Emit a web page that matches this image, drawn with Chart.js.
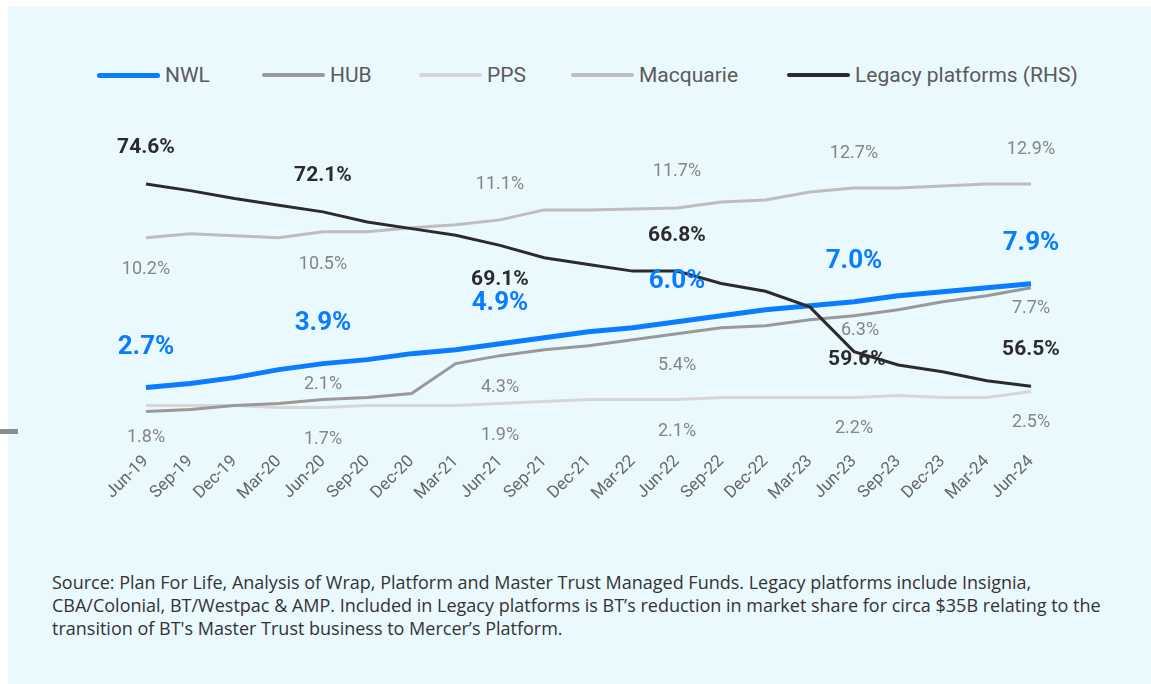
<!DOCTYPE html>
<html>
<head>
<meta charset="utf-8">
<script src="https://cdn.jsdelivr.net/npm/chart.js@4.4.1/dist/chart.umd.min.js"></script>
<style>
  html, body { margin: 0; padding: 0; background: #ffffff; }
  body { width: 1151px; height: 684px; position: relative; overflow: hidden; font-family: Roboto, "Noto Sans", sans-serif; }
  #panel { position: absolute; left: 8px; top: 6px; right: 0; bottom: 0; background: #eaf9fe; }
  #chartBox { position: absolute; left: 0; top: 0; width: 1143px; height: 550px; }
  .leg { position: absolute; top: 56px; height: 26px; display: flex; align-items: center; font-size: 21px; color: #5a5a5a; white-space: nowrap; }
  .leg span.ln { display: inline-block; width: 63px; border-radius: 3px; margin-right: 5px; }
  #source { position: absolute; left: 44px; top: 565px; margin: 0; white-space: nowrap; font-family: "Open Sans", sans-serif; font-size: 18px; line-height: 23px; color: #333; }
  #edgeBar { position: absolute; left: 0; top: 429px; width: 18px; height: 5px; background: #8c8c8c; }
</style>
</head>
<body>
<div id="panel">
  <div class="leg" style="left:89px"><span class="ln" style="height:5px;background:#0a7cff"></span>NWL</div>
  <div class="leg" style="left:254px"><span class="ln" style="height:4px;background:#999999"></span>HUB</div>
  <div class="leg" style="left:411px"><span class="ln" style="height:4px;background:#d6d6d6"></span>PPS</div>
  <div class="leg" style="left:563px"><span class="ln" style="height:4px;background:#bdbdbd"></span>Macquarie</div>
  <div class="leg" style="left:779px"><span class="ln" style="height:4px;background:#2b2b2b"></span>Legacy platforms (RHS)</div>
  <div id="chartBox"><canvas id="chart"></canvas></div>
  <p id="source">Source: Plan For Life, Analysis of Wrap, Platform and Master Trust Managed Funds. Legacy platforms include Insignia,<br>CBA/Colonial, BT/Westpac &amp; AMP. Included in Legacy platforms is BT’s reduction in market share for circa $35B relating to the<br>transition of BT's Master Trust business to Mercer’s Platform.</p>
</div>
<div id="edgeBar"></div>

<script>
  // quarters
  var quarters = ['Jun-19', 'Sep-19', 'Dec-19', 'Mar-20', 'Jun-20', 'Sep-20', 'Dec-20', 'Mar-21', 'Jun-21',
    'Sep-21', 'Dec-21', 'Mar-22', 'Jun-22', 'Sep-22', 'Dec-22', 'Mar-23', 'Jun-23', 'Sep-23', 'Dec-23', 'Mar-24', 'Jun-24'];

  // market share %, left axis
  var nwl = [2.7, 2.9, 3.2, 3.6, 3.9, 4.1, 4.4, 4.6, 4.9, 5.2, 5.5, 5.7, 6.0, 6.3, 6.6, 6.8, 7.0, 7.3, 7.5, 7.7, 7.9];
  var hub = [1.5, 1.6, 1.8, 1.9, 2.1, 2.2, 2.4, 3.9, 4.3, 4.6, 4.8, 5.1, 5.4, 5.7, 5.8, 6.1, 6.3, 6.6, 7.0, 7.3, 7.7];
  var pps = [1.8, 1.8, 1.8, 1.7, 1.7, 1.8, 1.8, 1.8, 1.9, 2.0, 2.1, 2.1, 2.1, 2.2, 2.2, 2.2, 2.2, 2.3, 2.2, 2.2, 2.5];
  var macquarie = [10.2, 10.4, 10.3, 10.2, 10.5, 10.5, 10.7, 10.85, 11.1, 11.6, 11.6, 11.65, 11.7, 12.0, 12.1, 12.5, 12.7, 12.7, 12.8, 12.9, 12.9];

  // legacy platforms %, right axis
  var legacy = [74.6, 74.0, 73.3, 72.7, 72.1, 71.2, 70.6, 70.0, 69.1, 68.0, 67.4, 66.8, 66.8, 65.7, 65.0, 63.6, 59.6, 58.4, 57.8, 57.0, 56.5];

  // points that get a value label (every June)
  var labelIdx = [0, 4, 8, 12, 16, 20];

  // label placement per series: vertical offset from the point
  var labelStyle = {
    NWL: { font: 'bold 26px Roboto', color: '#0a7cff', dy: [-40, -40, -40, -40, -40, -40] },
    HUB: { font: '18px Roboto', color: '#858585', dy: [null, -15, 32, 32, 15, 21], dx: [0, 0, 0, 0, 6, 0] },
    PPS: { font: '18px Roboto', color: '#858585', dy: [32, 32, 32, 32, 31, 31] },
    Macquarie: { font: '18px Roboto', color: '#858585', dy: [32, 33, -35, -36, -34, -34] },
    'Legacy platforms (RHS)': { font: 'bold 21px Roboto', color: '#2b2b2b', dy: [-36, -36, 34, -35, 8, -37], dx: [0, 0, 0, 0, 3, 0] }
  };

  var valueLabels = {
    id: 'valueLabels',
    afterDatasetsDraw: function(chart) {
      var ctx = chart.ctx;
      ctx.save();
      ctx.textAlign = 'center';
      ctx.textBaseline = 'middle';
      chart.data.datasets.forEach(function(ds, di) {
        var st = labelStyle[ds.label];
        var meta = chart.getDatasetMeta(di);
        ctx.font = st.font;
        ctx.fillStyle = st.color;
        labelIdx.forEach(function(idx, k) {
          if (st.dy[k] === null) return;
          var pt = meta.data[idx];
          var dx = st.dx ? st.dx[k] : 0;
          ctx.fillText(ds.data[idx].toFixed(1) + '%', pt.x + dx, pt.y + st.dy[k]);
        });
      });
      ctx.restore();
    }
  };

  function makeLine(label, data, color, width, axis, order) {
    return {
      label: label,
      data: data,
      borderColor: color,
      backgroundColor: color,
      borderWidth: width,
      pointRadius: 0,
      tension: 0,
      yAxisID: axis,
      order: order
    };
  }

  new Chart(document.getElementById('chart'), {
    type: 'line',
    data: {
      labels: quarters,
      datasets: [
        makeLine('NWL', nwl, '#0a7cff', 5, 'y', 2),
        makeLine('HUB', hub, '#999999', 3, 'y', 3),
        makeLine('PPS', pps, '#d6d6d6', 3, 'y', 5),
        makeLine('Macquarie', macquarie, '#bdbdbd', 3, 'y', 4),
        makeLine('Legacy platforms (RHS)', legacy, '#2b2b2b', 3, 'y1', 1)
      ]
    },
    options: {
      responsive: true,
      maintainAspectRatio: false,
      animation: false,
      layout: { padding: { left: 138, right: 120, top: 136, bottom: 0 } },
      plugins: {
        legend: { display: false },
        tooltip: { enabled: false }
      },
      scales: {
        x: {
          grid: { display: false },
          border: { display: false },
          ticks: {
            autoSkip: false,
            minRotation: 45,
            maxRotation: 45,
            padding: 2,
            color: '#666666',
            font: { family: 'Roboto', size: 17 }
          },
          afterFit: function(scale) { scale.height = 114.5; }
        },
        y: { display: false, min: 0, max: 15 },
        y1: { display: false, position: 'right', min: 51.56, max: 78.35 }
      }
    },
    plugins: [valueLabels]
  });
</script>
</body>
</html>
